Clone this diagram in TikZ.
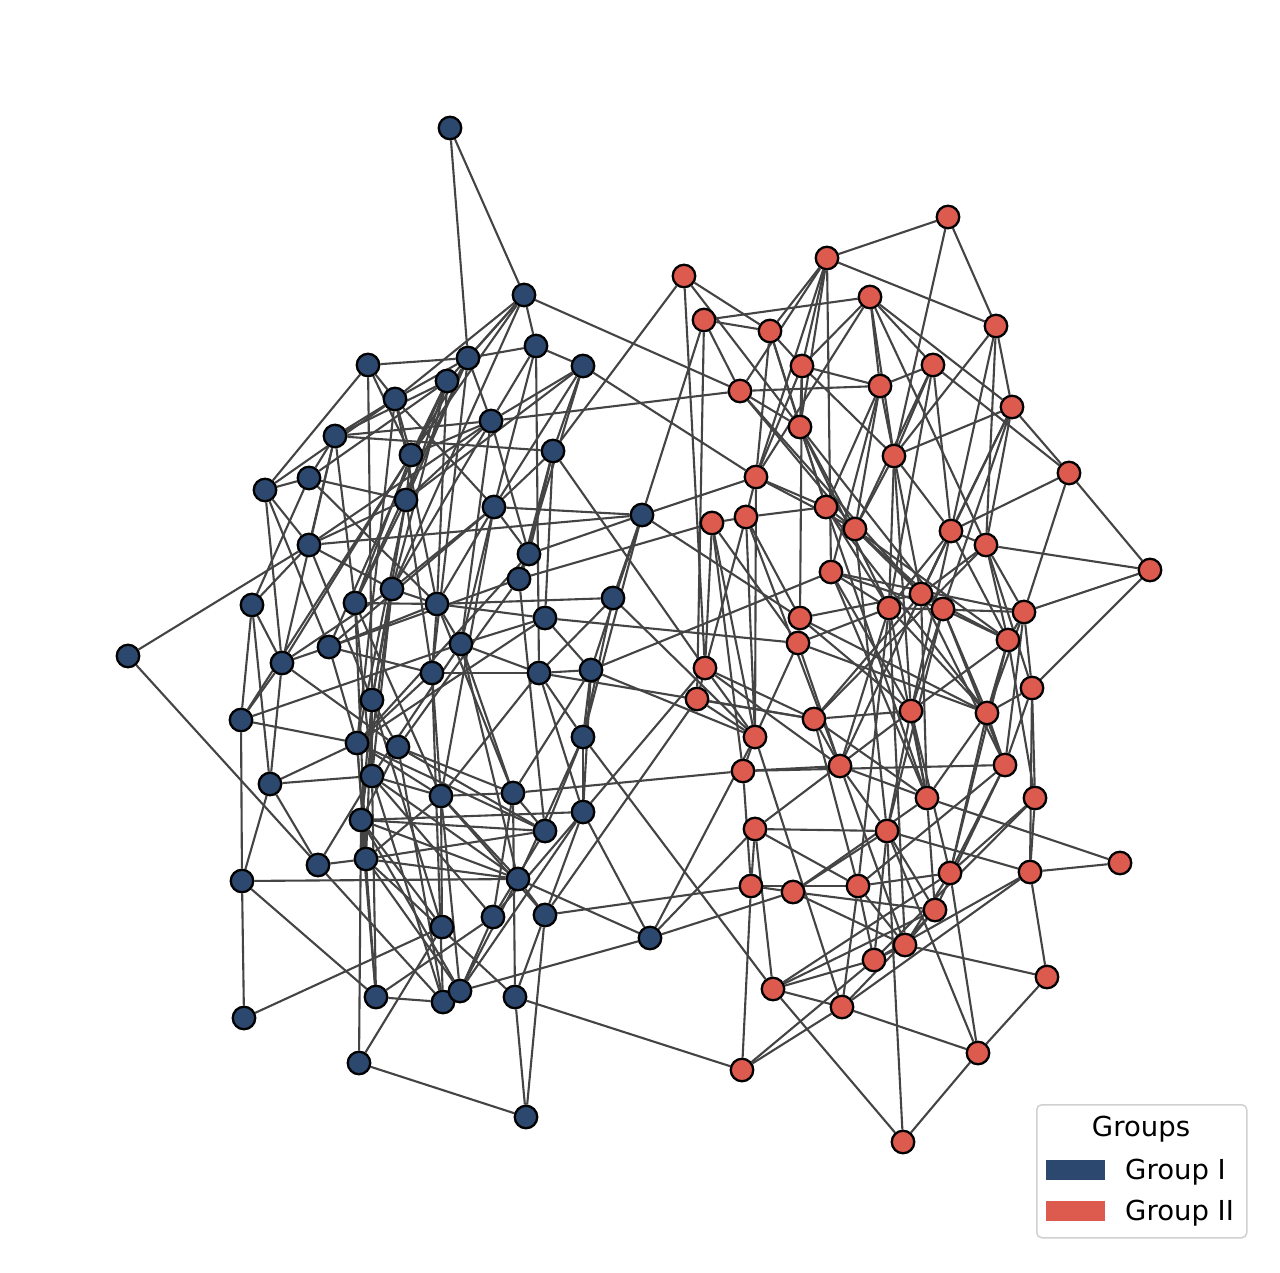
\documentclass[tikz,border=0pt]{standalone}
\usepackage{fontspec}
\setmainfont{DejaVu Sans}
\pgfdeclarelayer{back}
\pgfdeclarelayer{bg}
\pgfsetlayers{back,bg,main}
\definecolor{gblue}{HTML}{2C486E}
\definecolor{gred}{HTML}{DD5A4E}
\definecolor{edgec}{HTML}{444444}
\definecolor{legc}{HTML}{D0D0D0}
\begin{document}
\begin{tikzpicture}[x=1pt,y=-1pt,
  bnode/.style={circle,draw=black,line width=2.3pt,fill=gblue,minimum size=22.5pt,inner sep=0pt},
  rnode/.style={circle,draw=black,line width=2.3pt,fill=gred,minimum size=22.5pt,inner sep=0pt},
  edge/.style={draw=edgec,line width=2.1pt},
  legtext/.style={font=\fontsize{27.5}{33}\selectfont,inner sep=0pt,anchor=base west},
  patch/.style={minimum width=59pt,minimum height=20pt,inner sep=0pt,anchor=north west}]
\useasboundingbox (0,0) rectangle (1280,1272);
\begin{pgfonlayer}{back}
\fill[white] (0,0) rectangle (1280,1272);
\end{pgfonlayer}
% blue nodes
\foreach \n/\x/\y in {b1/450/128,b2/524/295,b3/536/346,b4/468/358,b5/368/365,b6/583/366,b7/447/381,b8/395/399,b9/491/421,b10/335/436,
 b11/553/451,b12/411/455,b13/309/478,b14/265/490,b15/406/500,b16/494/507,b17/642/515,b18/309/545,b19/529/554,b20/519/579,
 b21/392/589,b22/252/605,b23/355/603,b24/437/604,b25/613/598,b26/545/618,b27/461/644,b28/329/647,b29/128/656,b30/282/663,
 b31/432/673,b32/539/673,b33/591/670,b34/372/700,b35/241/720,b36/357/743,b37/398/747,b38/583/737,b39/372/776,b40/270/784,
 b41/441/796,b42/513/793,b43/583/812,b44/361/820,b45/545/831,b46/318/865,b47/366/859,b48/242/881,b49/518/879,b50/442/927,
 b51/493/917,b52/545/915,b53/650/938,b54/376/997,b55/443/1002,b56/460/991,b57/515/997,b58/244/1018,b59/359/1063,b60/526/1117}
  \node[bnode] (\n) at (\x,\y) {};
% red nodes
\foreach \n/\x/\y in {r1/948/217,r2/827/258,r3/684/276,r4/870/297,r5/704/320,r6/770/331,r7/996/326,r8/802/366,r9/933/365,r10/740/391,
 r11/880/386,r12/1012/407,r13/800/427,r14/894/456,r15/1069/473,r16/756/477,r17/712/523,r18/746/517,r19/826/507,r20/855/529,
 r21/951/531,r22/986/545,r23/831/572,r24/1150/570,r25/921/594,r26/889/608,r27/943/609,r28/800/618,r29/1024/612,r30/798/643,
 r31/1008/640,r32/705/668,r33/697/699,r34/1032/688,r35/911/711,r36/987/713,r37/814/719,r38/755/737,r39/743/771,r40/840/766,
 r41/1005/765,r42/927/798,r43/1035/798,r44/755/829,r45/887/831,r46/1120/863,r47/751/886,r48/793/892,r49/858/886,r50/950/873,
 r51/1030/872,r52/935/910,r53/905/945,r54/874/960,r55/773/989,r56/842/1007,r57/1047/977,r58/978/1053,r59/742/1070,r60/903/1142}
  \node[rnode] (\n) at (\x,\y) {};
\begin{pgfonlayer}{bg}
\foreach \a/\b in {b1/b2,b1/b4,
 b2/b3,b2/b4,b2/b8,b2/b7,b2/b12,b2/b21,b2/r10,
 b3/b6,b3/b32,b3/b9,b3/b16,b3/b4,
 b4/b5,b4/b9,b4/b23,b4/b31,
 b5/b8,b5/b14,b5/b34,b5/b12,
 b6/b9,b6/b11,b6/r16,b6/b15,b6/b20,b6/b16,
 b7/b10,b7/b12,b7/b21,b7/b24,b7/b28,b7/b13,b7/b15,
 b8/b12,b8/b24,b8/b36,b8/b16,b8/b10,b8/b14,b8/b4,
 b9/r10,b9/b12,b9/b15,b9/b19,b9/b27,b9/b10,b9/b18,b9/b21,
 b10/b11,b10/b13,b10/b18,b10/b23,b10/b30,
 b11/r3,b11/r32,b11/b20,b11/b26,b11/b16,b11/b19,
 b12/b15,b12/b30,b12/b35,b12/b4,b12/b23,
 b13/b14,b13/b15,b13/b22,b13/b24,
 b14/b18,b14/b30,b14/b28,
 b15/b18,b15/b23,b15/b34,b15/b36,b15/b31,b15/b4,
 b16/b19,b16/b21,b16/b24,b16/b27,b16/b41,b16/b17,b16/b28,
 b17/r5,b17/r16,b17/b19,b17/b25,b17/b33,b17/b18,b17/r28,b17/b38,
 b18/b22,b18/b29,b18/b21,b18/b34,
 b19/b20,b19/b36,
 b20/b28,b20/b37,b20/b45,b20/r17,
 b21/b34,b21/b39,b21/b44,b21/b24,b21/b30,
 b22/b35,b22/b40,b22/b30,
 b23/b24,b23/b41,b23/b47,b23/b39,
 b24/b27,b24/b31,b24/b26,b24/b42,b24/b25,b24/b28,
 b25/b32,b25/b38,b25/r38,
 b26/b27,b26/b33,b26/r30,b26/b36,
 b27/b32,b27/b42,b27/b49,b27/b39,b27/b35,
 b28/b30,b28/b31,b28/b36,
 b29/b46,
 b30/b35,b30/b40,b30/b37,
 b31/b32,b31/b41,b31/b55,b31/b36,
 b32/b33,b32/b38,b32/b41,b32/b43,b32/r37,
 b33/r23,b33/r38,b33/b38,b33/b43,b33/b42,
 b34/b37,b34/b39,b34/b47,b34/b50,b34/b44,
 b35/b36,b35/b48,
 b36/b41,b36/b47,b36/b54,b36/b45,
 b37/b42,b37/b45,b37/b44,b37/b55,
 b38/r55,b38/b43,b38/b45,b38/b49,
 b39/b41,b39/b51,b39/b55,b39/b49,b39/b54,
 b40/b46,b40/b48,b40/b36,b40/b39,
 b41/b42,b41/b50,b41/b52,b41/b49,b41/b56,b41/b47,
 b42/r39,b42/b51,b42/b57,b42/b45,
 b43/b53,b43/b52,b43/b44,b43/b56,b43/b51,b43/r32,
 b44/b45,b44/b49,b44/b59,b44/b56,b44/b47,b44/b50,
 b45/b47,b45/b51,
 b46/b47,b46/b55,b46/b39,
 b47/b49,b47/b57,b47/b56,
 b48/b49,b48/b54,b48/b58,
 b49/b53,b49/b56,b49/b52,
 b50/b58,b50/b59,
 b51/b56,b51/b54,
 b52/r47,b52/b60,b52/b57,b52/r33,
 b53/r44,b53/r38,b53/r48,b53/b56,
 b54/b55,b54/b44,
 b57/b60,b57/r59,
 b59/b60,
 r1/r2,r1/r7,r1/r14,
 r2/r7,r2/r23,r2/r6,r2/r10,r2/r13,r2/r16,r2/r8,
 r3/r6,r3/r13,r3/r32,
 r4/r5,r4/r11,r4/r12,r4/r9,r4/r22,r4/r8,r4/r16,r4/r14,
 r5/r6,r5/r10,r5/r33,
 r6/r8,r6/r13,r6/r19,r6/r16,
 r7/r12,r7/r14,r7/r21,r7/r22,
 r8/r11,r8/r14,r8/r16,r8/r28,r8/r13,
 r9/r11,r9/r15,r9/r20,r9/r26,r9/r14,r9/r21,
 r10/r11,r10/r13,r10/r20,r10/r25,
 r11/r14,r11/r23,r11/r19,r11/r20,
 r12/r14,r12/r15,r12/r25,r12/r27,r12/r21,r12/r22,
 r13/r19,r13/r26,r13/r27,r13/r20,
 r14/r20,r14/r26,r14/r35,r14/r21,r14/r25,
 r15/r21,r15/r24,r15/r29,
 r16/r38,r16/r18,r16/r20,r16/r19,
 r17/r18,r17/r30,r17/r39,r17/r32,r17/r38,
 r18/r28,r18/r40,r18/r19,r18/r38,r18/r33,
 r19/r20,r19/r42,r19/r36,r19/r26,
 r20/r25,r20/r31,r20/r45,r20/r27,
 r21/r22,r21/r26,r21/r35,r21/r40,r21/r25,r21/r31,
 r22/r24,r22/r29,r22/r25,r22/r37,r22/r31,r22/r34,
 r23/r27,r23/r29,r23/r42,r23/r26,r23/r35,
 r24/r29,r24/r34,
 r25/r27,r25/r28,r25/r37,r25/r41,r25/r31,r25/r42,
 r26/r29,r26/r30,r26/r49,r26/r53,r26/r36,r26/r40,r26/r42,
 r27/r31,r27/r35,r27/r45,r27/r41,r27/r36,
 r28/r30,r28/r36,r28/r35,
 r29/r31,r29/r34,r29/r36,r29/r41,
 r30/r36,r30/r38,r30/r40,
 r31/r35,r31/r43,r31/r50,r31/r36,
 r32/r38,r32/r40,r32/r37,
 r33/r37,r33/r38,
 r34/r41,r34/r43,r34/r51,r34/r36,
 r35/r37,r35/r42,r35/r44,r35/r45,r35/r50,
 r36/r41,r36/r50,r36/r42,
 r37/r42,r37/r49,r37/r40,
 r38/r39,r38/r56,
 r39/r40,r39/r41,r39/r47,
 r40/r42,r40/r53,r40/r45,
 r41/r49,r41/r52,r41/r50,
 r42/r46,r42/r48,r42/r52,
 r43/r51,r43/r54,r43/r50,
 r44/r47,r44/r45,r44/r55,r44/r49,
 r45/r51,r45/r58,r45/r60,r45/r48,r45/r52,r45/r54,
 r46/r51,
 r47/r48,r47/r59,r47/r49,
 r48/r52,r48/r53,
 r49/r50,r49/r56,r49/r54,r49/r53,
 r50/r58,r50/r55,r50/r53,
 r51/r57,r51/r54,r51/r56,
 r52/r53,r52/r55,r52/r56,
 r53/r54,r53/r57,
 r54/r55,r54/r59,
 r55/r56,r55/r60,
 r56/r58,r56/r59,
 r57/r58,
 r58/r60}
  \draw[edge] (\a) -- (\b);
\end{pgfonlayer}
% legend
\node[draw=legc,fill=white,rounded corners=5pt,line width=1.5pt,minimum width=210pt,minimum height=133pt,inner sep=0pt,anchor=north west] (leg) at (1036,1104) {};
\node[font=\fontsize{27.5}{33}\selectfont,inner sep=0pt,anchor=base] (legtitle) at (1141,1136) {Groups};
\node[patch,fill=gblue] (pblue) at (1046,1160) {};
\node[patch,fill=gred] (pred) at (1046,1201) {};
\node[legtext] (lblue) at (1125,1179) {Group I};
\node[legtext] (lred) at (1125,1220) {Group II};
\end{tikzpicture}
\end{document}
